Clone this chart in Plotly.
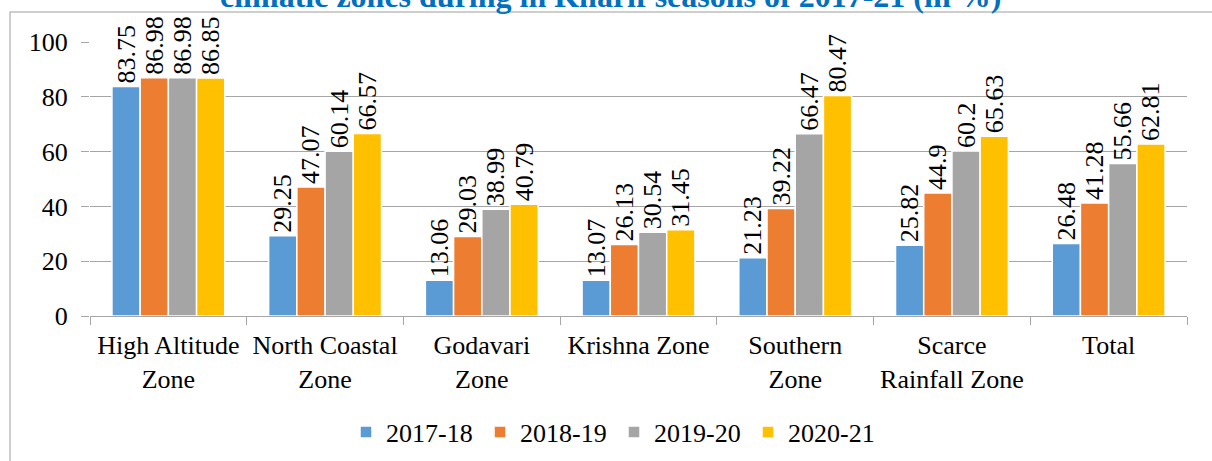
import plotly.graph_objects as go

categories = ["High Altitude<br>Zone", "North Coastal<br>Zone", "Godavari<br>Zone",
              "Krishna Zone", "Southern<br>Zone", "Scarce<br>Rainfall Zone", "Total"]
series_names = ["2017-18", "2018-19", "2019-20", "2020-21"]
v2017 = [83.75, 29.25, 13.06, 13.07, 21.23, 25.82, 26.48]
v2018 = [86.98, 47.07, 29.03, 26.13, 39.22, 44.9, 41.28]
v2019 = [86.98, 60.14, 38.99, 30.54, 66.47, 60.2, 55.66]
v2020 = [86.85, 66.57, 40.79, 31.45, 80.47, 65.63, 62.81]
colors = ["#5B9BD5", "#ED7D31", "#A5A5A5", "#FFC000"]
title_text = "climatic zones during in Kharif seasons of 2017-21 (in %)"

FONT = "Liberation Serif, Times New Roman, serif"

fig = go.Figure()
for name, vals, col in zip(series_names, [v2017, v2018, v2019, v2020], colors):
    fig.add_trace(go.Bar(
        x=categories, y=vals, name=name,
        marker=dict(color=col, line=dict(color="white", width=1.5)),
        text=[str(v) for v in vals], textposition="outside", textangle=-90,
        textfont=dict(family=FONT, size=26, color="black"),
        cliponaxis=False, constraintext="none",
    ))

W, H = 1212, 461
L, R, T, B = 90, 25, 42, 145
pw, ph = W - L - R, H - T - B

def px_x(x):
    return (x - L) / pw

def px_y(y):
    return (H - B - y) / ph

fig.update_layout(
    width=W, height=H,
    margin=dict(l=L, r=R, t=T, b=B, autoexpand=False),
    paper_bgcolor="white", plot_bgcolor="white",
    barmode="group", bargap=0.28, bargroupgap=0.0,
    font=dict(family=FONT, color="black"),
    showlegend=True,
    legend=dict(orientation="h", x=px_x(614), xanchor="center", y=px_y(432), yanchor="middle",
                font=dict(family=FONT, size=26), traceorder="normal",
                itemwidth=30, entrywidth=89),
)
fig.update_xaxes(
    type="category", showline=True, linecolor="#A6A6A6", linewidth=1,
    ticks="outside", tickson="boundaries", ticklen=8, tickcolor="#A6A6A6",
    tickfont=dict(family=FONT, size=26), showgrid=False, automargin=False,
    ticklabelstandoff=6,
)
fig.update_yaxes(
    range=[0, 100], dtick=20, showgrid=True, gridcolor="#A6A6A6", gridwidth=1,
    ticks="outside", ticklen=8, tickcolor="#A6A6A6", showline=False, zeroline=False,
    tickfont=dict(family=FONT, size=26), automargin=False, ticklabelstandoff=8,
)
# outer chart frame
fig.add_shape(type="rect", xref="paper", yref="paper",
              x0=px_x(10), x1=px_x(1230), y0=px_y(480), y1=px_y(12),
              line=dict(color="#BFBFBF", width=1.5), layer="below")
fig.add_annotation(text="<b>" + title_text + "</b>", xref="paper", yref="paper",
                   x=px_x(610), y=px_y(-4), xanchor="center", yanchor="middle",
                   showarrow=False, font=dict(family=FONT, size=32, color="#0070C0"))

fig.write_html("out.html", config={"displayModeBar": False},
               post_script="document.body.style.margin='0';")
